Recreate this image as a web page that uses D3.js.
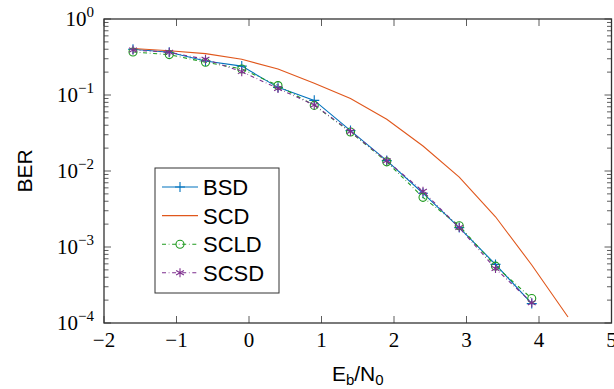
<!DOCTYPE html>
<html>
<head>
<meta charset="utf-8">
<script src="https://cdn.jsdelivr.net/npm/d3@7"></script>
<style>
  body { margin: 0; background: #fff; }
  svg { display: block; }
</style>
</head>
<body>
<svg id="chart"></svg>
<script>
const W = 614, H = 389;

// Eb/N0 sample points
const ebn0 = [-1.6, -1.1, -0.6, -0.1, 0.4, 0.9, 1.4, 1.9, 2.4, 2.9, 3.4, 3.9];
const ebn0SCD = [-1.6, -1.1, -0.6, -0.1, 0.4, 0.9, 1.4, 1.9, 2.4, 2.9, 3.4, 3.9, 4.4];

const berBSD  = [0.40, 0.365, 0.28, 0.24, 0.126, 0.085, 0.034, 0.0137, 0.0051, 0.0018, 5.9e-4, 1.8e-4];
const berSCD  = [0.41, 0.383, 0.35, 0.295, 0.22, 0.143, 0.09, 0.048, 0.0213, 0.0083, 0.0025, 5.8e-4, 1.2e-4];
const berSCLD = [0.368, 0.34, 0.27, 0.22, 0.133, 0.073, 0.0326, 0.0132, 0.0045, 0.0019, 5.6e-4, 2.1e-4];
const berSCSD = [0.39, 0.365, 0.295, 0.203, 0.122, 0.074, 0.033, 0.0136, 0.0054, 0.0018, 5.2e-4, 1.85e-4];

const xTicks = [-2, -1, 0, 1, 2, 3, 4, 5];
const yTicks = [1e-4, 1e-3, 1e-2, 1e-1, 1e0];

const series = [
  { name: "BSD",  x: ebn0,    y: berBSD,  color: "#0072bd", dash: null,              marker: "plus" },
  { name: "SCD",  x: ebn0SCD, y: berSCD,  color: "#e0571c", dash: null,              marker: null },
  { name: "SCLD", x: ebn0,    y: berSCLD, color: "#1f9a1f", dash: "4,2.7,0.7,2.7",   marker: "circle" },
  { name: "SCSD", x: ebn0,    y: berSCSD, color: "#7e2f8e", dash: "4,2.7,0.7,2.7",   marker: "star" }
];

const m = { left: 104, right: 611.5, top: 19, bottom: 323 };

const svg = d3.select("#chart").attr("width", W).attr("height", H);

const x = d3.scaleLinear().domain([-2, 5]).range([m.left, m.right]);
const y = d3.scaleLog().domain([1e-4, 1]).range([m.bottom, m.top]);

// markers
function markerPath(type, r) {
  if (type === "plus") return `M${-r},0H${r}M0,${-r}V${r}`;
  if (type === "star") {
    // asterisk: vertical bar plus two bars at +-30 deg from horizontal
    let p = `M0,${-r}V${r}`;
    for (const a of [30, 150]) {
      const dx = r * Math.cos(a * Math.PI / 180), dy = r * Math.sin(a * Math.PI / 180);
      p += `M${-dx},${-dy}L${dx},${dy}`;
    }
    return p;
  }
  if (type === "circle") return d3.symbol(d3.symbolCircle, Math.PI * 16)();
  return "";
}
const markerR = { plus: 5, star: 4.5, circle: 4 };

// frame
const axisColor = "#333";
svg.append("rect")
  .attr("x", m.left).attr("y", m.top)
  .attr("width", m.right - m.left).attr("height", m.bottom - m.top)
  .attr("fill", "none").attr("stroke", axisColor).attr("stroke-width", 1.3);

// x ticks (inward, bottom and top)
const xt = svg.append("g").attr("stroke", axisColor).attr("stroke-width", 0.8);
xTicks.forEach(t => {
  xt.append("line").attr("x1", x(t)).attr("x2", x(t)).attr("y1", m.bottom).attr("y2", m.bottom - 7);
  xt.append("line").attr("x1", x(t)).attr("x2", x(t)).attr("y1", m.top).attr("y2", m.top + 7);
});

// y ticks (major + minor, left and right)
const yt = svg.append("g").attr("stroke", axisColor).attr("stroke-width", 0.8);
y.ticks().forEach(v => {
  const major = yTicks.some(d => Math.abs(Math.log10(v) - Math.log10(d)) < 1e-9);
  const len = major ? 7 : 4.5;
  yt.append("line").attr("x1", m.left).attr("x2", m.left + len).attr("y1", y(v)).attr("y2", y(v));
  yt.append("line").attr("x1", m.right).attr("x2", m.right - len).attr("y1", y(v)).attr("y2", y(v));
});

// tick labels
const serif = "'Liberation Serif', 'DejaVu Serif', serif";
svg.append("g").selectAll("text").data(xTicks).join("text")
  .attr("x", d => x(d)).attr("y", 347)
  .attr("text-anchor", "middle")
  .attr("font-family", serif).attr("font-size", 21)
  .text(d => d < 0 ? "\u2212" + Math.abs(d) : d);

const yl = svg.append("g").selectAll("text").data(yTicks).join("text")
  .attr("x", 94).attr("y", d => y(d) + 7)
  .attr("text-anchor", "end")
  .attr("font-family", serif).attr("font-size", 21);
yl.append("tspan").text("10");
yl.append("tspan").attr("dy", -9).attr("font-size", 15)
  .text(d => { const e = Math.round(Math.log10(d)); return e < 0 ? "\u2212" + Math.abs(e) : e; });

// axis titles
const sans = "'Liberation Sans', Arial, sans-serif";
svg.append("text")
  .attr("transform", `translate(32,${(m.top + m.bottom) / 2}) rotate(-90)`)
  .attr("text-anchor", "middle")
  .attr("font-family", sans).attr("font-size", 21)
  .text("BER");

const xl = svg.append("text")
  .attr("x", (m.left + m.right) / 2).attr("y", 381)
  .attr("text-anchor", "middle")
  .attr("font-family", sans).attr("font-size", 21);
xl.append("tspan").text("E");
xl.append("tspan").attr("dy", 4).attr("font-size", 15).text("b");
xl.append("tspan").attr("dy", -4).text("/N");
xl.append("tspan").attr("dy", 4).attr("font-size", 15).text("0");

// lines
const plot = svg.append("g");
const line = d3.line().x(d => x(d[0])).y(d => y(d[1]));
series.forEach(s => {
  const pts = s.x.map((v, i) => [v, s.y[i]]);
  plot.append("path").datum(pts)
    .attr("d", line)
    .attr("fill", "none")
    .attr("stroke", s.color)
    .attr("stroke-width", 1.1)
    .attr("stroke-dasharray", s.dash);
  if (s.marker) {
    plot.append("g").selectAll("path").data(pts).join("path")
      .attr("transform", d => `translate(${x(d[0])},${y(d[1])})`)
      .attr("d", markerPath(s.marker, markerR[s.marker]))
      .attr("fill", "none")
      .attr("stroke", s.color)
      .attr("stroke-width", 1.1);
  }
});

// legend
const lg = svg.append("g").attr("transform", "translate(155,168)");
lg.append("rect").attr("width", 124).attr("height", 125)
  .attr("fill", "#fff").attr("stroke", axisColor).attr("stroke-width", 1);
series.forEach((s, i) => {
  const cy = 19 + i * 28.6;
  lg.append("line").attr("x1", 7).attr("x2", 43).attr("y1", cy).attr("y2", cy)
    .attr("stroke", s.color).attr("stroke-width", 1.1)
    .attr("stroke-dasharray", s.dash);
  if (s.marker) {
    lg.append("path").attr("transform", `translate(25,${cy})`)
      .attr("d", markerPath(s.marker, markerR[s.marker]))
      .attr("fill", "none").attr("stroke", s.color).attr("stroke-width", 1.1);
  }
  lg.append("text").attr("x", 48).attr("y", cy + 8)
    .attr("font-family", sans).attr("font-size", 22)
    .text(s.name);
});
</script>
</body>
</html>
